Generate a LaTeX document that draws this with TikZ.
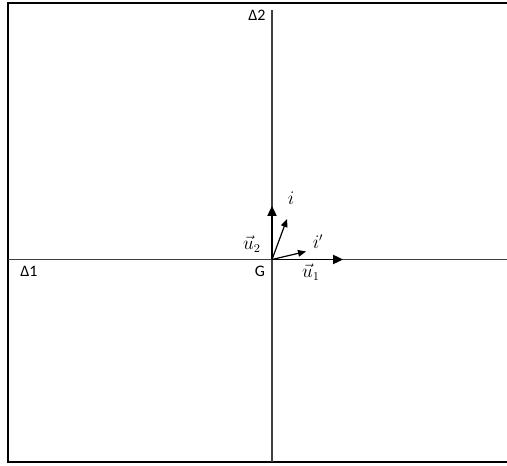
\documentclass[tikz,border=0pt]{standalone}
\usepackage{fontspec}
\setmainfont{Carlito}
\usepackage{amsmath}
\usetikzlibrary{arrows.meta}
\begin{document}
\begin{tikzpicture}[x=0.75pt,y=-0.75pt,
  axis/.style={draw=black!75,line width=0.8pt},
  bigarrow/.style={draw=black,line width=0.9pt,-{Triangle[length=7.5pt,width=7pt]}},
  smallarrow/.style={draw=black,line width=0.9pt,-{Triangle[length=6pt,width=5pt]}},
  lbl/.style={font=\fontsize{12}{14}\selectfont,inner sep=0pt},
  mlbl/.style={font=\fontsize{13.5}{16}\selectfont,inner sep=0pt}]
\useasboundingbox (0,0) rectangle (507,466);
\begin{scope}
\clip (0,0) rectangle (507,466);
\draw[line width=1.4pt] (8,3) rectangle (520,462);
\end{scope}
\coordinate (G) at (272,259.5);
\coordinate (top) at (272,10);
\coordinate (bot) at (272,462);
\coordinate (left) at (8,259.5);
\coordinate (right) at (507,259.5);
\coordinate (u2tip) at (272,206);
\coordinate (u1tip) at (343,259.5);
\coordinate (itip) at (287,219);
\coordinate (iptip) at (306,251.5);
\draw[axis] (top) -- (bot);
\draw[axis] (left) -- (right);
\draw[bigarrow] (G) -- (u2tip);
\draw[bigarrow] (G) -- (u1tip);
\draw[smallarrow] (G) -- (itip);
\draw[smallarrow] (G) -- (iptip);
\node[lbl] (d2) at (257,15) {Δ2};
\node[lbl] (d1) at (29,271) {Δ1};
\node[lbl] (g) at (260,271) {G};
\node[mlbl] (li) at (291,198) {$i$};
\node[mlbl] (lip) at (318,242) {$i'$};
\node[mlbl] (lu2) at (252,244) {$\vec{u}_2$};
\node[mlbl] (lu1) at (311,272) {$\vec{u}_1$};
\end{tikzpicture}
\end{document}
